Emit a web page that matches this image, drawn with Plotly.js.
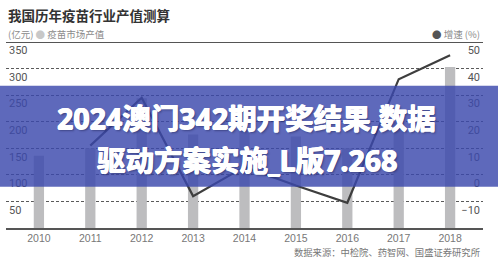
<!DOCTYPE html>
<html>
<head>
<meta charset="utf-8">
<script src="https://cdn.plot.ly/plotly-3.0.1.min.js"></script>
<style>
  html, body { margin: 0; padding: 0; background: #fff; }
  #chart { width: 498px; height: 275px; }
</style>
</head>
<body>
<div id="chart"></div>
<script>
// Vaccine industry output value (100M CNY) and its yearly growth rate (%)
const years = ['2010', '2011', '2012', '2013', '2014', '2015', '2016', '2017', '2018'];
const marketValue = [136, 150, 244, 176, 188, 172, 150, 200, 303];
const growthYears = ['2011', '2012', '2013', '2014', '2015', '2016', '2017', '2018'];
const growthRate = [11, 29, -8, 3, -4, -10.5, 36, 45];

const leftTicks = [50, 100, 150, 200, 250, 300, 350];
const rightTicks = [-10, 0, 10, 20, 30, 40, 50];

const titleText = '我国历年疫苗行业产值测算';
const unitText = '(亿元)';
const barName = '疫苗市场产值';
const lineName = '增速 (%)';
const sourceText = '数据来源：中检院、药智网、国盛证券研究所';
const bannerLines = ['2024澳门342期开奖结果,数据', '驱动方案实施_L版7.268'];

const CJK = '"Noto Sans CJK SC", "Noto Sans", sans-serif';
const NUM = '"Liberation Sans Narrow", Roboto, "Liberation Sans", sans-serif';

// label axes are shifted so that each value label sits just under its gridline
const LEFT_RANGE = [0, 350];
const RIGHT_RANGE = [-20, 50];
const labelShift = 0.045; // fraction of the axis span

const traces = [
  {
    type: 'bar', x: years, y: marketValue, name: barName,
    marker: { color: '#bdbdbf' }, width: 0.2,
    hoverinfo: 'x+y', showlegend: false
  },
  {
    type: 'scatter', mode: 'lines', x: growthYears, y: growthRate, yaxis: 'y2',
    name: lineName, line: { color: '#3e3e3e', width: 2.2 },
    hoverinfo: 'x+y', showlegend: false
  },
  { type: 'scatter', x: [], y: [], yaxis: 'y3', showlegend: false, hoverinfo: 'skip' },
  { type: 'scatter', x: [], y: [], yaxis: 'y4', showlegend: false, hoverinfo: 'skip' }
];

function shifted(r) {
  const span = r[1] - r[0];
  return [r[0] + span * labelShift, r[1] + span * labelShift];
}

const tickFont = { family: NUM, size: 11, color: '#555' };

// heavy white banner lettering, thickened with a thin halo
const bannerFont = {
  family: '"Noto Sans", "Noto Sans CJK SC", sans-serif', size: 28.5, color: '#ffffff', weight: 900,
  shadow: '0.6px 0 0 #fff, -0.6px 0 0 #fff, 0 0.5px 0 #fff, 1.5px 1.5px 2px rgba(20,20,60,0.4)'
};

const layout = {
  width: 498, height: 275,
  margin: { l: 6, r: 15, t: 42, b: 47 },
  paper_bgcolor: '#ffffff', plot_bgcolor: '#ffffff',
  showlegend: false,
  xaxis: {
    type: 'category', range: [-0.64, 8.64],
    showgrid: false, zeroline: false, fixedrange: true,
    showline: true, linecolor: '#555', linewidth: 1.5,
    ticks: '', tickfont: { family: '"Liberation Sans", Arial, sans-serif', size: 10.5, color: '#777' }
  },
  yaxis: {
    range: LEFT_RANGE, tickvals: leftTicks.slice(0, -1),
    showticklabels: false, zeroline: false, showline: false,
    gridcolor: '#5a5a5a', gridwidth: 1, griddash: '3px,2px'
  },
  yaxis2: {
    range: RIGHT_RANGE, overlaying: 'y', side: 'right',
    showgrid: false, zeroline: false, showticklabels: false
  },
  yaxis3: {
    range: shifted(LEFT_RANGE), overlaying: 'y', side: 'left',
    tickvals: leftTicks, showgrid: false, zeroline: false,
    ticklabelposition: 'inside', ticks: '', tickfont: tickFont
  },
  yaxis4: {
    range: shifted(RIGHT_RANGE), overlaying: 'y', side: 'right',
    tickvals: rightTicks, showgrid: false, zeroline: false,
    ticklabelposition: 'inside', ticks: '', tickfont: tickFont
  },
  shapes: [
    { type: 'line', xref: 'paper', yref: 'y', x0: 0, x1: 1, y0: 350, y1: 350,
      line: { color: '#555', width: 2 } },
    { type: 'rect', xref: 'paper', yref: 'paper', layer: 'above',
      x0: -0.02, x1: 1.04, y0: 0.222, y1: 0.765,
      fillcolor: 'rgba(58,72,172,0.82)', line: { width: 0 } }
  ],
  annotations: [
    { xref: 'paper', yref: 'paper', x: 0.0, y: 1.145, xanchor: 'left', yanchor: 'middle',
      text: '<b>' + titleText + '</b>', showarrow: false,
      font: { family: CJK, size: 13.5, color: '#333' } },
    { xref: 'paper', yref: 'paper', x: 0.0, y: 1.043, xanchor: 'left', yanchor: 'middle',
      text: unitText + ' <span style="color:#c8c8c8">●</span> ' + barName, showarrow: false,
      font: { family: CJK, size: 9.5, color: '#8a8a8a' } },
    { xref: 'paper', yref: 'paper', x: 0.998, y: 1.043, xanchor: 'right', yanchor: 'middle',
      text: '<span style="color:#555">●</span> ' + lineName, showarrow: false,
      font: { family: CJK, size: 9.5, color: '#8a8a8a' } },
    { xref: 'paper', yref: 'paper', x: 0.998, y: -0.13, xanchor: 'right', yanchor: 'middle',
      text: sourceText, showarrow: false,
      font: { family: CJK, size: 9.3, color: '#777' } },
    { xref: 'paper', yref: 'paper', x: 0.505, y: 0.591, xanchor: 'center', yanchor: 'middle',
      text: '<b>' + bannerLines[0] + '</b>', showarrow: false, font: bannerFont },
    { xref: 'paper', yref: 'paper', x: 0.505, y: 0.366, xanchor: 'center', yanchor: 'middle',
      text: '<b>' + bannerLines[1] + '</b>', showarrow: false, font: bannerFont }
  ]
};

Plotly.newPlot('chart', traces, layout, { displayModeBar: false, staticPlot: true });
</script>
</body>
</html>
